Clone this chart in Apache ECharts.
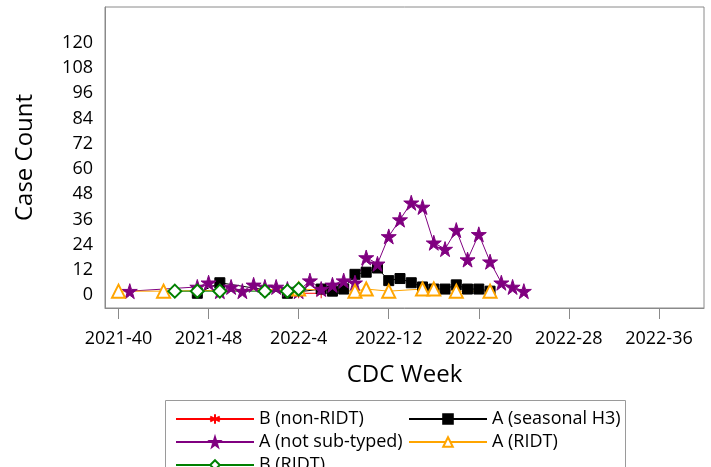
<!DOCTYPE html>
<html><head><meta charset="utf-8">
<script src="https://cdn.jsdelivr.net/npm/echarts@6/dist/echarts.min.js"></script>
<style>html,body{margin:0;padding:0;background:#fff}#c{width:711px;height:467px}</style>
</head><body><div id="c"></div>
<script>
// ---- data ----
const tickLabels = ['2021-40','2021-48','2022-4','2022-12','2022-20','2022-28','2022-36'];
const yTickValues = [0,12,24,36,48,60,72,84,96,108,120];

const bNonRidtWeeks = ['2022-4','2022-6'];
const bNonRidtCounts = [1,1];

const h3Weeks = ['2021-47','2021-49','2022-3','2022-6','2022-7','2022-8','2022-9','2022-10','2022-11','2022-12','2022-13','2022-14','2022-15','2022-16','2022-17','2022-18','2022-19','2022-20','2022-21'];
const h3Counts = [1,6,1,3,2,3,10,11,13,7,8,6,4,3,3,5,3,3,2];

const notSubWeeks = ['2021-41','2021-47','2021-48','2021-49','2021-50','2021-51','2021-52','2022-1','2022-2','2022-3','2022-4','2022-5','2022-6','2022-7','2022-8','2022-9','2022-10','2022-11','2022-12','2022-13','2022-14','2022-15','2022-16','2022-17','2022-18','2022-19','2022-20','2022-21','2022-22','2022-23','2022-24'];
const notSubCounts = [2,4,6,2,4,2,5,4,4,3,2,7,3,5,7,6,18,15,28,36,44,42,25,22,31,17,29,16,6,4,2];

const aRidtWeeks = ['2021-40','2021-44','2022-4','2022-9','2022-10','2022-12','2022-15','2022-16','2022-18','2022-21'];
const aRidtCounts = [2,2,3,2,3,2,3,3,2,2];

const bRidtWeeks = ['2021-45','2021-47','2021-49','2022-1','2022-3','2022-4'];
const bRidtCounts = [2,2,2,2,2,3];

// ---- helpers ----
function weekIndex(w){ const p=w.split('-'); const y=+p[0], n=+p[1]; return y===2021 ? n-40 : n+12; }
function pairs(ws, vs){ return ws.map((w,i)=>[weekIndex(w), vs[i]]); }
const tickValues = tickLabels.map(weekIndex);

const FONT = 'Open Sans';
const STAR = 'path://M50,0 L61,35 L98,35 L68,57 L79,91 L50,70 L21,91 L32,57 L2,35 L39,35 Z';
const ASTER = 'path://M5,0 L5,10 M0.7,2.5 L9.3,7.5 M9.3,2.5 L0.7,7.5';

function mk(name, ws, vs, color, symbol, size, extra){
  return Object.assign({
    name, type:'line', data: pairs(ws, vs), symbol, symbolSize: size,
    lineStyle:{color, width:1}, itemStyle:{color, borderColor:color, borderWidth:1},
    emphasis:{disabled:true}, animation:false
  }, extra||{});
}

const legendText = {fontSize:18, color:'#000', fontFamily:FONT, lineHeight:20};

const chart = echarts.init(document.getElementById('c'));
chart.setOption({
  animation:false,
  textStyle:{fontFamily:FONT},
  grid:{left:105, right:7, top:7, bottom:159, show:true, borderColor:'#8a8a8a', borderWidth:1, outerBoundsMode:'none'},
  xAxis:{
    type:'value', min:-1.2, max:52,
    name:'CDC Week', nameLocation:'middle', nameGap:55,
    nameTextStyle:{fontSize:24, color:'#000', fontFamily:FONT},
    axisLine:{show:true, onZero:false, lineStyle:{color:'#8a8a8a'}},
    axisTick:{show:true, length:11, lineStyle:{color:'#8a8a8a'}, customValues: tickValues},
    axisLabel:{customValues: tickValues, fontSize:18, color:'#000', margin:22, fontFamily:FONT,
      formatter: v => tickLabels[tickValues.indexOf(Math.round(v))] || ''},
    splitLine:{show:false}
  },
  yAxis:{
    type:'value', min:-6, max:137,
    name:'Case Count', nameLocation:'middle', nameGap:68, nameRotate:90,
    nameTextStyle:{fontSize:24, color:'#000', fontFamily:FONT},
    axisLine:{show:true, onZero:false, lineStyle:{color:'#8a8a8a'}},
    axisTick:{show:false},
    axisLabel:{customValues: yTickValues, fontSize:18, color:'#000', margin:12, fontFamily:FONT},
    splitLine:{show:false}
  },
  legend:[
    {orient:'vertical', left:170, top:404, height:120, itemWidth:78, itemHeight:12, itemGap:3,
     textStyle:legendText, data:['B (non-RIDT)','A (not sub-typed)','B (RIDT)'], selectedMode:false},
    {orient:'vertical', left:403, top:404, height:120, itemWidth:78, itemHeight:12, itemGap:3,
     textStyle:legendText, data:['A (seasonal H3)','A (RIDT)'], selectedMode:false}
  ],
  graphic:[{type:'rect', left:163, top:398, shape:{width:460, height:80}, style:{fill:'none', stroke:'#9a9a9a', lineWidth:1}, silent:true}],
  series:[
    mk('B (non-RIDT)', bNonRidtWeeks, bNonRidtCounts, '#ff0000', ASTER, 10),
    mk('A (seasonal H3)', h3Weeks, h3Counts, '#000000', 'rect', 10),
    mk('A (not sub-typed)', notSubWeeks, notSubCounts, '#800080', STAR, 15),
    mk('A (RIDT)', aRidtWeeks, aRidtCounts, '#ffa500', 'emptyTriangle', 13),
    mk('B (RIDT)', bRidtWeeks, bRidtCounts, '#008000', 'emptyDiamond', 13)
  ]
});
</script></body></html>
